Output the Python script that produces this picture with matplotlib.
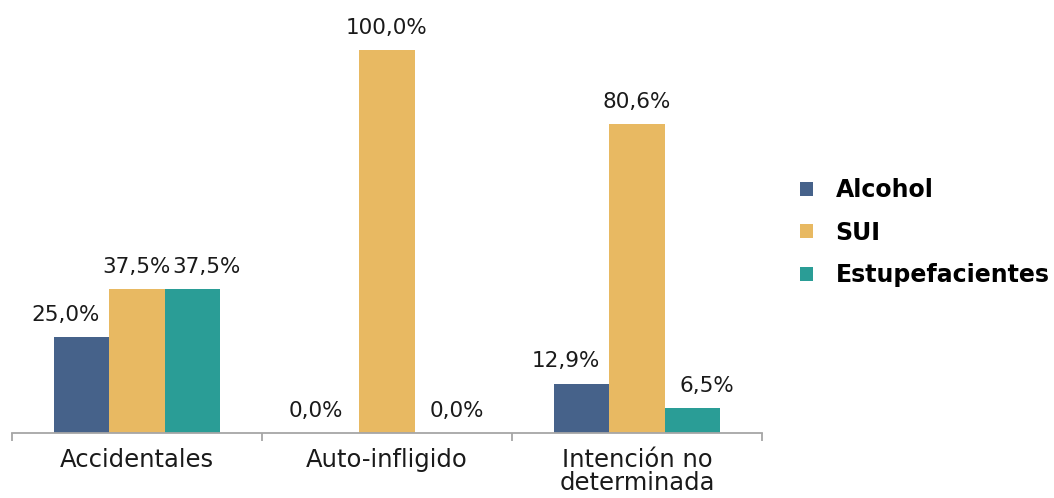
import numpy as np
import matplotlib
matplotlib.use("Agg")
import matplotlib.pyplot as plt

categories = ["Accidentales", "Auto-infligido", "Intención no\ndeterminada"]
series = ["Alcohol", "SUI", "Estupefacientes"]
alcohol = [25.0, 0.0, 12.9]
sui = [37.5, 100.0, 80.6]
estupefacientes = [37.5, 0.0, 6.5]
colors = ["#46628A", "#E8B962", "#2A9D96"]

plt.rcParams['font.family'] = ['DejaVu Sans']

fig = plt.figure(figsize=(10.54, 4.98), dpi=100)
ax = fig.add_axes([12 / 1054, 65 / 498, 750 / 1054, 428 / 498])

x = np.arange(len(categories))
w = 0.222
label_shift = [-16, 0, 14]  # px offsets for value labels
for i, (name, vals) in enumerate(zip(series, [alcohol, sui, estupefacientes])):
    pos = x + (i - 1) * w
    ax.bar(pos, vals, width=w, color=colors[i], label=name)
    for p, v in zip(pos, vals):
        ax.annotate(f"{v:.1f}%".replace(".", ","), (p, v), xytext=(label_shift[i] * 0.72, 9),
                    textcoords="offset points", ha="center", va="bottom",
                    fontsize=15.5, color="#1a1a1a")

ax.set_xlim(-0.5, 2.5)
ax.set_ylim(0, 111.75)
ax.set_yticks([])
for s in ["top", "right", "left"]:
    ax.spines[s].set_visible(False)
ax.spines["bottom"].set_color("#A6A6A6")
ax.spines["bottom"].set_linewidth(1.3)

ax.set_xticks([-0.5, 0.5, 1.5, 2.5])
ax.set_xticklabels([])
ax.tick_params(axis="x", direction="out", length=6, width=1.3, color="#A6A6A6")
ax.set_xticks(x, minor=True)
ax.set_xticklabels(categories, minor=True, fontsize=17.5, color="#1a1a1a", linespacing=0.95)
ax.tick_params(axis="x", which="minor", length=0, pad=11)

leg = fig.legend(loc="upper left", bbox_to_anchor=(779 / 1054, 1 - 157 / 498),
                 frameon=False, handlelength=0.55, handleheight=0.55, handletextpad=0.95,
                 labelspacing=0.78, prop={"size": 17, "weight": "bold"})

fig.savefig("out.png", dpi=100)
